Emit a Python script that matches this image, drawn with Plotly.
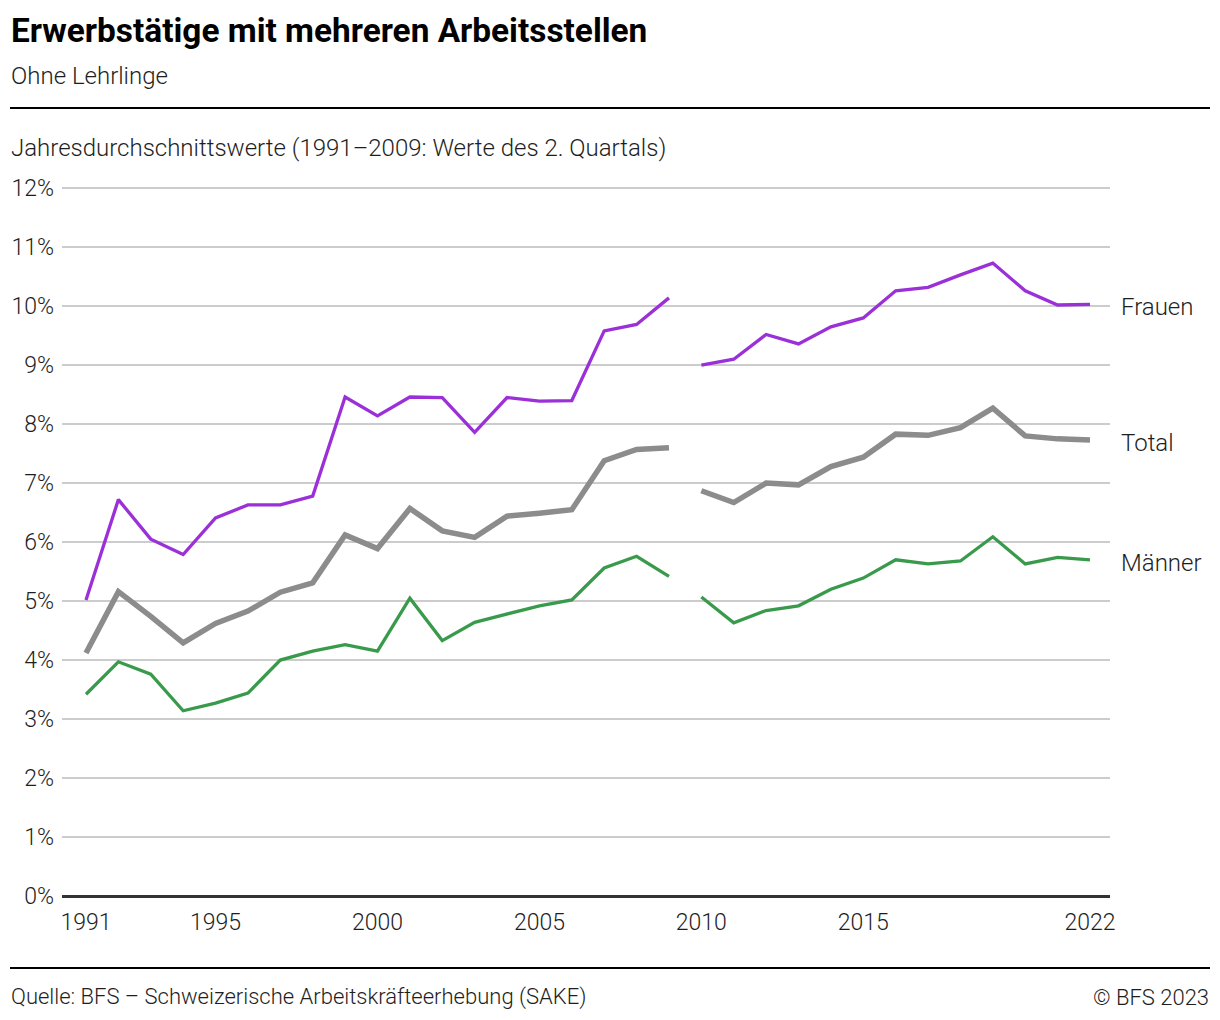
import plotly.graph_objects as go

years = [1991, 1992, 1993, 1994, 1995, 1996, 1997, 1998, 1999, 2000,
         2001, 2002, 2003, 2004, 2005, 2006, 2007, 2008, 2009,
         2010, 2011, 2012, 2013, 2014, 2015, 2016, 2017, 2018, 2019,
         2020, 2021, 2022]

frauen = [5.02, 6.72, 6.05, 5.79, 6.41, 6.63, 6.63, 6.78, 8.46, 8.14,
          8.46, 8.45, 7.86, 8.45, 8.39, 8.40, 9.58, 9.69, 10.14,
          9.00, 9.10, 9.52, 9.36, 9.65, 9.80, 10.26, 10.32, 10.53, 10.73,
          10.26, 10.02, 10.03]

total = [4.12, 5.16, 4.74, 4.29, 4.62, 4.83, 5.15, 5.31, 6.12, 5.89,
         6.57, 6.19, 6.08, 6.44, 6.49, 6.55, 7.38, 7.57, 7.60,
         6.87, 6.67, 7.00, 6.97, 7.28, 7.44, 7.83, 7.81, 7.94, 8.27,
         7.80, 7.75, 7.73]

maenner = [3.42, 3.97, 3.76, 3.14, 3.27, 3.44, 4.00, 4.15, 4.26, 4.15,
           5.05, 4.33, 4.64, 4.78, 4.92, 5.02, 5.56, 5.76, 5.42,
           5.07, 4.63, 4.84, 4.92, 5.20, 5.39, 5.70, 5.63, 5.68, 6.09,
           5.63, 5.74, 5.70]

break_year = 2010  # survey change: 1991-2009 Q2 values, from 2010 annual averages

tick_vals = [1991, 1995, 2000, 2005, 2010, 2015, 2022]
tick_text = ["1991", "1995", "2000", "2005", "2010", "2015", "2022"]
y_ticks = list(range(0, 13))
y_tick_text = [f"{v}%" for v in y_ticks]

series = [
    ("Frauen", frauen, "#9b30d9", 3.3),
    ("Total", total, "#8c8c8c", 5.5),
    ("Männer", maenner, "#3a9a4c", 3.3),
]

W, H = 1220, 1020
L, R, T, B = 62, 110, 187, 124
PW, PH = W - L - R, H - T - B
Y_TOP = 12.02

def px(x):
    return (x - L) / PW

def py(y):
    return (H - B - y) / PH

FONT = "Roboto"
TXT = "#1e1e1e"

fig = go.Figure()
for name, vals, color, width in series:
    for part in (0, 1):
        xs = [y for y in years if (y < break_year) == (part == 0)]
        ys = [v for y, v in zip(years, vals) if (y < break_year) == (part == 0)]
        fig.add_trace(go.Scatter(
            x=xs, y=ys, mode="lines", name=name, showlegend=False,
            line=dict(color=color, width=width, shape="linear"),
            hoverinfo="x+y"))

annotations = []
for name, vals, color, width in series:
    annotations.append(dict(
        x=1, xref="paper", y=vals[-1], yref="y", xanchor="left", yanchor="middle",
        xshift=9, yshift=-3, text=name, showarrow=False,
        font=dict(family=FONT, size=24, color=TXT, weight=300)))

annotations += [
    dict(x=px(9), y=py(31), xref="paper", yref="paper", xanchor="left", yanchor="middle",
         text="<b>Erwerbstätige mit mehreren Arbeitsstellen</b>", showarrow=False,
         font=dict(family=FONT, size=33.4, color="#000000")),
    dict(x=px(9), y=py(76), xref="paper", yref="paper", xanchor="left", yanchor="middle",
         text="Ohne Lehrlinge", showarrow=False,
         font=dict(family=FONT, size=24, color=TXT, weight=300)),
    dict(x=px(9), y=py(148), xref="paper", yref="paper", xanchor="left", yanchor="middle",
         text="Jahresdurchschnittswerte (1991–2009: Werte des 2. Quartals)", showarrow=False,
         font=dict(family=FONT, size=24, color=TXT, weight=300)),
    dict(x=px(9), y=py(997), xref="paper", yref="paper", xanchor="left", yanchor="middle",
         text="Quelle: BFS – Schweizerische Arbeitskräfteerhebung (SAKE)", showarrow=False,
         font=dict(family=FONT, size=22, color=TXT, weight=300)),
    dict(x=px(1211), y=py(997), xref="paper", yref="paper", xanchor="right", yanchor="middle",
         text="© BFS 2023", showarrow=False,
         font=dict(family=FONT, size=22, color=TXT, weight=300)),
]

shapes = [
    dict(type="line", xref="paper", yref="paper", x0=px(10), x1=px(1210), y0=py(108), y1=py(108),
         line=dict(color="#000000", width=2)),
    dict(type="line", xref="paper", yref="paper", x0=px(10), x1=px(1210), y0=py(968), y1=py(968),
         line=dict(color="#000000", width=2)),
]

x0 = 1991 - (86 - L) / ((1090 - 86) / 31)
x1 = 2022 + (L + PW - 1090) / ((1090 - 86) / 31)

fig.update_layout(
    width=W, height=H,
    margin=dict(l=L, r=R, t=T, b=B, pad=0),
    paper_bgcolor="white", plot_bgcolor="white",
    showlegend=False,
    annotations=annotations,
    shapes=shapes,
    font=dict(family=FONT, color=TXT),
    xaxis=dict(range=[x0, x1], tickvals=tick_vals, ticktext=tick_text,
               showgrid=False, zeroline=False, showline=False, ticks="",
               tickfont=dict(family=FONT, size=23, color=TXT, weight=300), ticklabelstandoff=10),
    yaxis=dict(range=[0, Y_TOP], tickvals=y_ticks, ticktext=y_tick_text,
               showgrid=True, gridcolor="#cccccc", gridwidth=1.5,
               zeroline=True, zerolinecolor="#333333", zerolinewidth=2.5,
               showline=False, ticks="",
               tickfont=dict(family=FONT, size=23, color=TXT, weight=300), ticklabelstandoff=7),
)

fig.write_html("out.html", config={"displayModeBar": False},
               post_script="document.body.style.margin='0';")
